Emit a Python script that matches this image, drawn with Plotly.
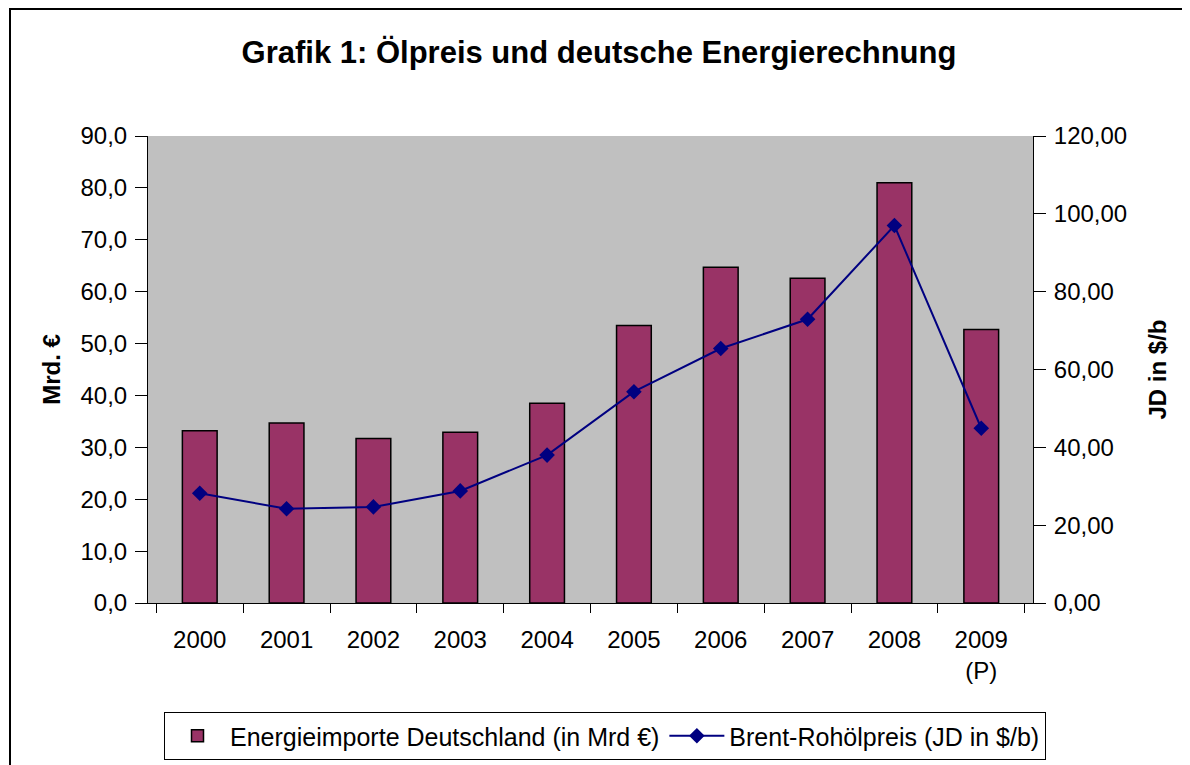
import plotly.graph_objects as go

years = ["2000", "2001", "2002", "2003", "2004", "2005", "2006", "2007", "2008", "2009<br>(P)"]
energy_imports = [33.2, 34.7, 31.7, 32.9, 38.5, 53.5, 64.7, 62.6, 81.0, 52.7]
brent_price = [28.2, 24.2, 24.7, 28.8, 38.0, 54.3, 65.4, 72.9, 97.0, 44.9]

bar_name = "Energieimporte Deutschland (in Mrd €)"
line_name = "Brent-Rohölpreis (JD in $/b)"
title_text = "Grafik 1: Ölpreis und deutsche Energierechnung"
left_title = "Mrd. €"
right_title = "JD in $/b"

FONT = "Liberation Sans, Arial, sans-serif"

# page body has an 8px margin; the figure is sized to fit the viewport
W, H = 1182, 757
OFF = 8

fig = go.Figure()
fig.add_trace(go.Bar(
    x=years, y=energy_imports, name=bar_name,
    marker=dict(color="#993366", line=dict(color="black", width=1.5)),
    yaxis="y",
))
fig.add_trace(go.Scatter(
    x=years, y=brent_price, name=line_name, mode="lines+markers",
    line=dict(color="#000080", width=2),
    marker=dict(symbol="diamond", size=12, color="#000080"),
    yaxis="y2",
))

L, R, T, B = 148 - OFF, W - (1033 - OFF), 136 - OFF, H - (603 - OFF)
PW, PH = W - L - R, H - T - B

def px_x(fx):
    return (fx - L) / PW

def px_y(fy):
    return 1 - (fy - T) / PH

fig.update_layout(
    width=W, height=H,
    margin=dict(l=L, r=R, t=T, b=B, autoexpand=False),
    paper_bgcolor="white", plot_bgcolor="#C0C0C0",
    separators=",.",
    bargap=0.6,
    font=dict(family=FONT, size=24, color="black"),
    title=dict(text="<b>" + title_text + "</b>", x=0.5, xanchor="center",
               y=1 - (52 - OFF) / H, yanchor="middle",
               font=dict(family=FONT, size=31, color="black")),
    xaxis=dict(
        type="category", showgrid=False, showline=True, linecolor="black", linewidth=1,
        ticks="outside", ticklen=9, tickcolor="black", tickson="boundaries",
        tickfont=dict(size=24), ticklabelstandoff=15, automargin=False,
    ),
    yaxis=dict(
        range=[0, 90], dtick=10, tickformat=".1f", showgrid=False,
        showline=True, linecolor="black", linewidth=1,
        ticks="outside", ticklen=12, tickcolor="black",
        tickfont=dict(size=24), zeroline=False, ticklabelstandoff=3,
        automargin=False,
        title=dict(text="<b>" + left_title + "</b>", font=dict(size=24), standoff=13),
    ),
    yaxis2=dict(
        range=[0, 120], dtick=20, tickformat=".2f", showgrid=False,
        overlaying="y", side="right",
        showline=True, linecolor="black", linewidth=1,
        ticks="outside", ticklen=12, tickcolor="black",
        tickfont=dict(size=24), zeroline=False, ticklabelstandoff=3,
        automargin=False,
        title=dict(text="<b>" + right_title + "</b>", font=dict(size=24), standoff=22),
    ),
    showlegend=True,
    legend=dict(
        orientation="h", x=px_x(605 - OFF), xanchor="center",
        y=px_y(712 - OFF), yanchor="top",
        bordercolor="black", borderwidth=1, bgcolor="white",
        font=dict(size=25), itemwidth=55, tracegroupgap=0,
    ),
    shapes=[dict(
        type="rect", xref="paper", yref="paper",
        x0=px_x(2), x1=px_x(W + 20),
        y0=px_y(H + 20), y1=px_y(1),
        line=dict(color="black", width=2), fillcolor="rgba(0,0,0,0)", layer="below",
    )],
)

fig.write_html("out.html")
